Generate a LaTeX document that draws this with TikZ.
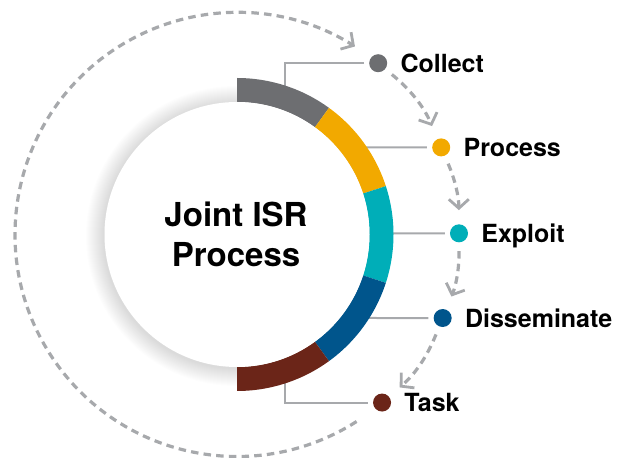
\documentclass[tikz,border=0pt]{standalone}
\usepackage{fontspec}
\setmainfont{TeX Gyre Heros}
\usetikzlibrary{arrows.meta}
\definecolor{cgray}{HTML}{6D6E71}
\definecolor{corange}{HTML}{F2A900}
\definecolor{cteal}{HTML}{00AEB8}
\definecolor{cblue}{HTML}{00558C}
\definecolor{cbrown}{HTML}{6B2518}
\definecolor{lgray}{HTML}{A7A9AC}
\begin{document}
\begin{tikzpicture}[x=1pt,y=1pt,
  leader/.style={draw=lgray, line width=2pt, shorten <=5pt},
  cyc/.style={draw=lgray, line width=3.2pt, dash pattern=on 7.5pt off 5.2pt,
    -{Straight Barb[length=9pt,width=20pt,line width=2.8pt]}},
  cycstep/.style={cyc, shorten <=8.5pt, shorten >=14pt},
  dot/.style={circle, inner sep=0pt, minimum size=18pt, fill=#1},
  lbl/.style={font=\fontsize{25}{30}\selectfont\bfseries, inner sep=0pt, anchor=base west}
]
\useasboundingbox (0,0) rectangle (625,458);
\begin{scope}[shift={(237,223.5)}]
  % soft shadow
  \foreach \r in {133,134,...,150}
    \fill[black, opacity=0.009] (-1,-1.5) circle[radius=\r];
  % dots
  \node[dot=cgray]   (dcollect) at (50.5:222) {};
  \node[dot=corange] (dprocess) at (23.1:222) {};
  \node[dot=cteal]   (dexploit) at (0.3:222) {};
  \node[dot=cblue]   (ddissem)  at (-22.1:222) {};
  \node[dot=cbrown]  (dtask)    at (-49.2:222) {};
  % ring anchor points (hidden under ring)
  \coordinate (rcollect) at (48,140);
  \coordinate (rprocess) at (120,87.1);
  \coordinate (rexploit) at (145,1.16);
  \coordinate (rdissem)  at (120,-83.5);
  \coordinate (rtask)    at (48,-140);
  % leader lines
  \draw[leader] (dcollect) -| (rcollect);
  \draw[leader] (dprocess) -- (rprocess);
  \draw[leader] (dexploit) -- (rexploit);
  \draw[leader] (ddissem) -- (rdissem);
  \draw[leader] (dtask) -| (rtask);
  % ring segments
  \foreach \a/\c in {90/cgray,54/corange,18/cteal,-18/cblue,-54/cbrown}{
    \pgfmathsetmacro{\b}{\a-36}
    \fill[\c] (\a:156.5) arc[start angle=\a, end angle=\b, radius=156.5]
      -- (\b:132.5) arc[start angle=\b, end angle=\a, radius=132.5] -- cycle;
  }
  % white centre
  \fill[white] (0,0) circle[radius=132.5];
  \node[font=\fontsize{33}{40}\selectfont\bfseries, align=center, inner sep=0pt] (title) at (-1,0) {Joint ISR\\Process};
  % labels
  \node[lbl] (lcollect) at ([xshift=13pt,yshift=-9pt]dcollect.east) {Collect};
  \node[lbl] (lprocess) at ([xshift=13pt,yshift=-9pt]dprocess.east) {Process};
  \node[lbl] (lexploit) at ([xshift=13pt,yshift=-9pt]dexploit.east) {Exploit};
  \node[lbl] (ldissem)  at ([xshift=13pt,yshift=-9pt]ddissem.east) {Disseminate};
  \node[lbl] (ltask)    at ([xshift=13pt,yshift=-9pt]dtask.east) {Task};
  % cycle arrows
  \draw[cycstep] (dcollect) to[bend left=13.7] (dprocess);
  \draw[cycstep] (dprocess) to[bend left=11.4] (dexploit);
  \draw[cycstep] (dexploit) to[bend left=11.2] (ddissem);
  \draw[cycstep] (ddissem) to[bend left=13.6] (dtask);
  \coordinate (bigstart) at (-57.4:222);
  \draw[cyc] (bigstart) arc[start angle=-57.4, end angle=-302.1, radius=222];
\end{scope}
\end{tikzpicture}
\end{document}
